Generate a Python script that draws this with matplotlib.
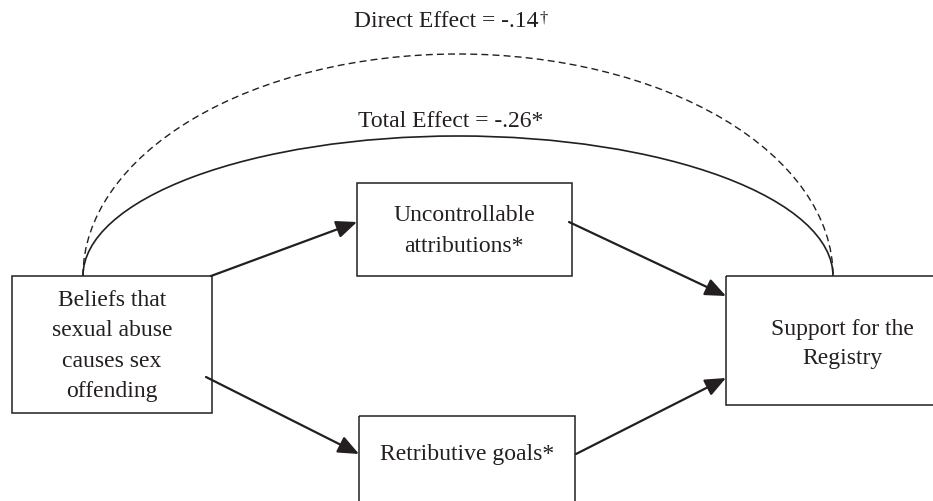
import matplotlib
matplotlib.use("Agg")
import matplotlib.pyplot as plt
from matplotlib.patches import Rectangle, Arc

# ---- content ----
node_labels = [
    "Beliefs that\nsexual abuse\ncauses sex\noffending",
    "Uncontrollable\nattributions*",
    "Retributive goals*",
    "Support for the\nRegistry",
]
direct_label = "Direct Effect = -.14"
direct_mark = "\u2020"
total_label = "Total Effect = -.26*"

# ---- layout (pixel-like coordinates) ----
boxes = [  # x0, y0, x1, y1
    (12, 277, 212, 414),
    (357, 184, 572, 277),
    (359, 417, 575, 540),
    (726, 277, 960, 406),
]
text_pos = [(112, 346), (464, 231), (467, 455), (842, 344)]
line_sp = [1.6, 1.65, 1.3, 1.45]
arrows = [  # start, end
    ((211, 277), (357, 223)),
    ((206, 378), (359, 455)),
    ((569, 223), (726, 297)),
    ((576, 455), (726, 379)),
]

W, H = 933, 502
fig = plt.figure(figsize=(W / 100, H / 100), dpi=100)
ax = fig.add_axes([0, 0, 1, 1])
ax.set_xlim(0, W)
ax.set_ylim(H, 0)
ax.axis("off")

ink = "#231f20"
font = dict(family="Liberation Serif", size=17, color=ink)

for (x0, y0, x1, y1), lab, (tx, ty), ls in zip(boxes, node_labels, text_pos, line_sp):
    ax.add_patch(Rectangle((x0, y0), x1 - x0, y1 - y0, fill=False,
                           edgecolor=ink, lw=1.1))
    ax.text(tx, ty, lab, ha="center", va="center", linespacing=ls, **font)

for (s, e) in arrows:
    ax.annotate("", xy=e, xytext=s,
                arrowprops=dict(arrowstyle="-|>,head_length=0.9,head_width=0.38",
                                color=ink, lw=1.6, shrinkA=0, shrinkB=0,
                                mutation_scale=14))

cx, cy, a = 458, 277, 375
ax.add_patch(Arc((cx, cy), 2 * a, 2 * 140, theta1=180, theta2=360,
                 edgecolor=ink, lw=1.2))
ax.add_patch(Arc((cx, cy), 2 * a, 2 * 222, theta1=180, theta2=360,
                 edgecolor=ink, lw=1.0, linestyle=(0, (5, 3))))

t = ax.text(446, 27, direct_label, ha="center", va="baseline", **font)
ax.annotate(direct_mark, xy=(1, 1), xycoords=t, xytext=(1, 0),
            textcoords="offset points", ha="left", va="top",
            family="Liberation Serif", size=12, color=ink)
ax.text(451, 127, total_label, ha="center", va="baseline", **font)

fig.savefig("out.png", dpi=100)
